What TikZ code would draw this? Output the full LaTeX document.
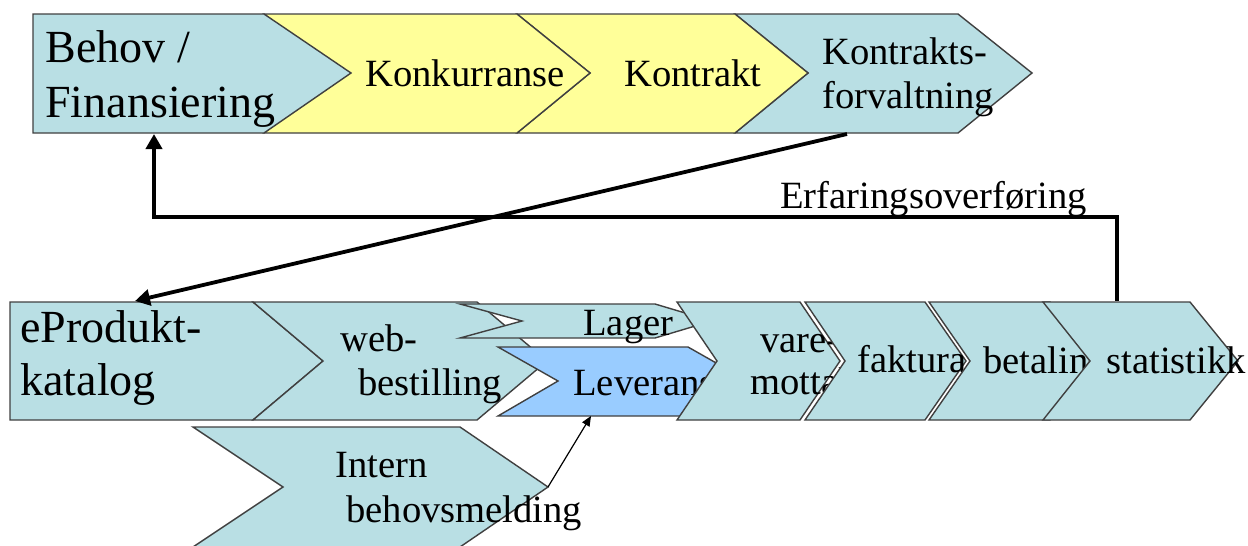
\documentclass[tikz,border=0pt]{standalone}
\usepackage{fontspec}
\setmainfont{Liberation Serif}
\usetikzlibrary{arrows.meta}
\definecolor{tealf}{RGB}{185,223,228}
\definecolor{yelf}{RGB}{255,255,153}
\definecolor{bluf}{RGB}{153,204,255}
\definecolor{edgec}{RGB}{64,64,64}
\begin{document}
\begin{tikzpicture}[x=0.5pt,y=-0.5pt,
  chev/.style={draw=edgec,line width=0.7pt,line join=miter},
  bigtxt/.style={font=\fontsize{23}{27}\selectfont,anchor=base west,inner sep=0pt},
  txt/.style={font=\fontsize{19.3}{22}\selectfont,anchor=base west,inner sep=0pt},
  flow/.style={line width=1.9pt,line join=miter,-{Triangle[length=7.5pt,width=8pt]}},
  thinflow/.style={line width=0.6pt,-{Triangle[length=5pt,width=4.2pt]}}]
\useasboundingbox (0,0) rectangle (1248,546);
\clip (0,0) rectangle (1248,546);
% ---------- top row ----------
\path[chev,fill=tealf] (735,14) -- (958,14) -- (1032,73) -- (958,133) -- (735,133) -- (808,73) -- cycle;
\node[txt] (kf1) at (822,64) {Kontrakts-};
\node[txt] (kf2) at (822,108) {forvaltning};
\path[chev,fill=yelf] (517,14) -- (735,14) -- (808,73) -- (735,133) -- (517,133) -- (590,73) -- cycle;
\node[txt] (kt) at (624,86) {Kontrakt};
\path[chev,fill=yelf] (264,14) -- (517,14) -- (590,73) -- (517,133) -- (264,133) -- (337,73) -- cycle;
\node[txt] (kk) at (365,86) {Konkurranse};
\path[chev,fill=tealf] (33,14) -- (264,14) -- (351,73) -- (264,133) -- (33,133) -- cycle;
\node[bigtxt] (bh1) at (45,62) {Behov /};
\node[bigtxt] (bh2) at (45,117) {Finansiering};
% ---------- bottom row ----------
\path[chev,fill=tealf] (10,302) -- (253,302) -- (323,361) -- (253,420) -- (10,420) -- cycle;
\node[bigtxt] (ep1) at (20,342) {eProdukt-};
\node[bigtxt] (ep2) at (20,395) {katalog};
\path[chev,fill=tealf] (253,302) -- (477,302) -- (547,361) -- (477,420) -- (253,420) -- (323,361) -- cycle;
\node[txt] (wb1) at (340,351) {web-};
\node[txt] (wb2) at (358,395) {bestilling};
\path[chev,fill=tealf] (193,427) -- (460,427) -- (548,487) -- (460,547) -- (193,547) -- (283,487) -- cycle;
\node[txt] (in1) at (335,477) {Intern};
\node[txt] (in2) at (346,522) {behovsmelding};
\path[chev,fill=tealf] (460,304) -- (655,304) -- (712,321) -- (655,338) -- (460,338) -- (522,321) -- cycle;
\node[txt] (lg) at (583,335) {Lager};
\path[chev,fill=bluf] (498,347) -- (688,347) -- (748,381) -- (688,416) -- (498,416) -- (558,381) -- cycle;
\node[txt] (lv) at (573,395) {Leveranse};
\path[chev,fill=tealf] (677,302) -- (800,302) -- (840,361) -- (800,420) -- (677,420) -- (717,361) -- cycle;
\node[txt] (vm1) at (760,352) {vare-};
\node[txt] (vm2) at (750,394) {mottak};
\path[chev,fill=tealf] (805,302) -- (925,302) -- (966,361) -- (925,420) -- (805,420) -- (845,361) -- cycle;
\node[txt] (fk) at (857,372) {faktura};
\path[chev,fill=tealf] (929,302) -- (1050,302) -- (1090,361) -- (1050,420) -- (929,420) -- (970,361) -- cycle;
\node[txt] (bt) at (983,373) {betaling};
\path[chev,fill=tealf] (1043,302) -- (1190,302) -- (1238,361) -- (1190,420) -- (1043,420) -- (1090,361) -- cycle;
\node[txt] (st) at (1106,373) {statistikk};
% ---------- connectors ----------
\coordinate (kfB) at (847,134);
\coordinate (epT) at (135,301);
\coordinate (stT) at (1117,301);
\coordinate (c1) at (1117,217);
\coordinate (c2) at (154,217);
\coordinate (bhB) at (154,134);
\coordinate (inT) at (548,487);
\coordinate (lvB) at (591,416);
\draw[flow] (kfB) -- (epT);
\draw[flow] (stT) -- (c1) -- (c2) -- (bhB);
\draw[thinflow] (inT) -- (lvB);
\node[txt] (erf) at (780,208) {Erfaringsoverføring};
\end{tikzpicture}
\end{document}
